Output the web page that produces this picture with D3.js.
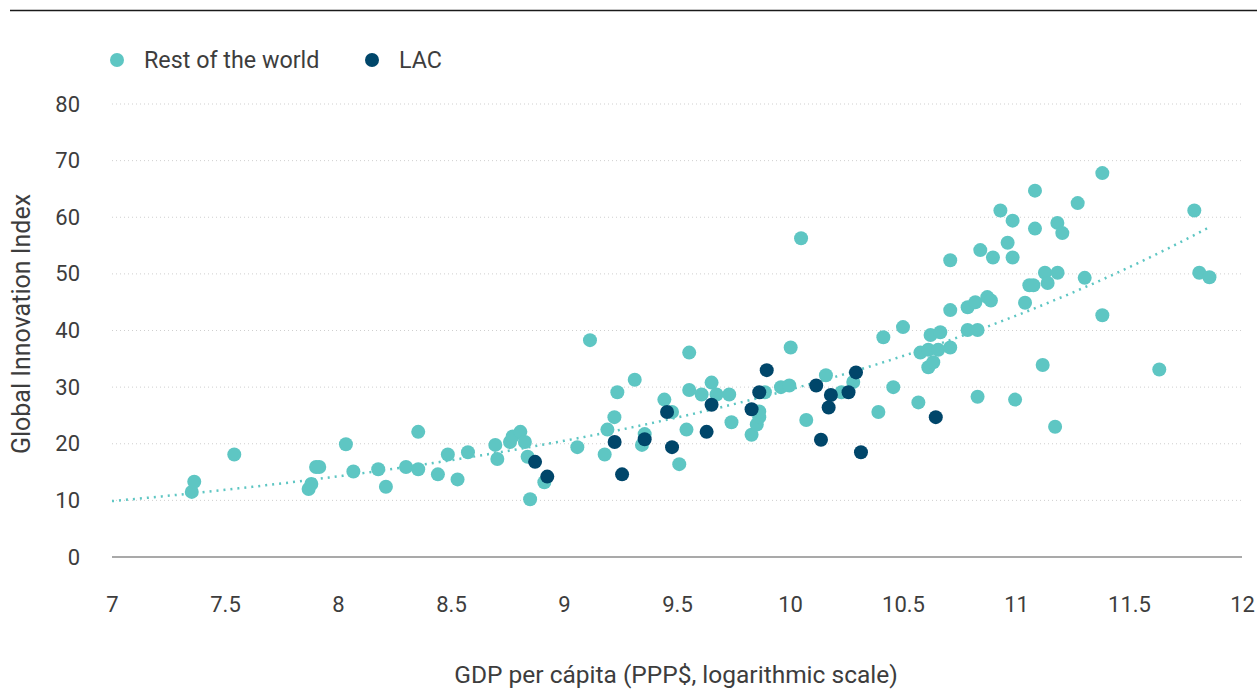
<!DOCTYPE html>
<html><head><meta charset="utf-8">
<script src="https://cdn.jsdelivr.net/npm/d3@7"></script>
<style>
html,body{margin:0;padding:0;background:#fff;}
svg{display:block;font-family:Roboto,"Liberation Sans",sans-serif;}
</style></head>
<body>
<svg id="chart" width="1257" height="690"></svg>
<script>
const seriesNames = ["Rest of the world", "LAC"];
const seriesColors = ["#5ec6c3", "#00466a"];
const xTicks = [7, 7.5, 8, 8.5, 9, 9.5, 10, 10.5, 11, 11.5, 12];
const yTicks = [0, 10, 20, 30, 40, 50, 60, 70, 80];

const restX = [7.353,7.364,7.541,7.870,7.882,7.903,7.917,8.035,8.068,8.178,8.212,8.301,8.355,8.355,8.442,8.486,8.529,8.575,8.696,8.705,8.761,8.773,8.807,8.827,8.839,8.850,8.913,9.059,9.115,9.180,9.192,9.223,9.236,9.313,9.345,9.357,9.444,9.478,9.510,9.542,9.554,9.554,9.609,9.653,9.675,9.731,9.741,9.830,9.853,9.864,9.864,9.889,9.960,9.997,10.003,10.049,10.072,10.159,10.228,10.280,10.391,10.413,10.457,10.500,10.568,10.577,10.612,10.612,10.622,10.634,10.656,10.665,10.709,10.709,10.709,10.786,10.786,10.820,10.830,10.830,10.842,10.873,10.889,10.898,10.931,10.963,10.985,10.985,10.996,11.040,11.059,11.077,11.084,11.084,11.118,11.128,11.140,11.173,11.183,11.184,11.205,11.273,11.304,11.382,11.382,11.634,11.789,11.811,11.856];
const restY = [11.5,13.3,18.1,12.0,12.9,15.9,15.9,19.9,15.1,15.5,12.4,15.9,15.5,22.1,14.6,18.1,13.7,18.5,19.8,17.3,20.3,21.3,22.1,20.3,17.7,10.2,13.2,19.4,38.3,18.1,22.5,24.7,29.1,31.3,19.8,21.7,27.8,25.6,16.4,22.5,36.1,29.5,28.7,30.8,28.7,28.7,23.8,21.6,23.4,24.7,25.7,29.1,30.0,30.3,37.0,56.3,24.2,32.1,29.1,30.9,25.6,38.8,30.0,40.6,27.3,36.1,36.6,33.5,39.2,34.4,36.6,39.7,43.6,37.0,52.4,44.1,40.1,45.0,40.1,28.3,54.2,45.9,45.3,52.9,61.2,55.5,59.4,52.9,27.8,44.9,48.0,48.0,64.7,58.0,33.9,50.2,48.4,23.0,59.0,50.2,57.2,62.5,49.3,67.8,42.7,33.1,61.2,50.2,49.4];

const lacX = [8.872,8.926,9.224,9.257,9.357,9.456,9.478,9.631,9.653,9.830,9.864,9.897,10.116,10.137,10.171,10.181,10.259,10.292,10.314,10.645];
const lacY = [16.8,14.2,20.3,14.6,20.8,25.6,19.4,22.1,26.9,26.1,29.1,33.0,30.3,20.7,26.4,28.6,29.1,32.6,18.5,24.7];

const textColor = "#3d3d3d";
const svg = d3.select("#chart");
const x = d3.scaleLinear().domain([7, 12]).range([112, 1242]);
const y = d3.scaleLinear().domain([0, 80]).range([557, 104]);

// top rule
svg.append("line").attr("x1", 10).attr("x2", 1257).attr("y1", 10.5).attr("y2", 10.5)
  .attr("stroke", "#1a1a1a").attr("stroke-width", 1.5);

// gridlines
svg.append("g").selectAll("line").data(yTicks.filter(d => d > 0)).join("line")
  .attr("x1", x(7)).attr("x2", x(12)).attr("y1", d => y(d)).attr("y2", d => y(d))
  .attr("stroke", "#cfcfcf").attr("stroke-width", 1).attr("stroke-dasharray", "1 3");

// y axis
const yAxis = svg.append("g").attr("transform", `translate(${x(7)},0)`)
  .call(d3.axisLeft(y).tickValues(yTicks).tickSize(0).tickPadding(32));
yAxis.select(".domain").remove();
yAxis.selectAll("text").attr("font-size", 22).attr("fill", textColor).attr("font-family", "Roboto");

// x axis (labels only)
const xAxis = svg.append("g").attr("transform", `translate(0,${y(0)})`)
  .call(d3.axisBottom(x).tickValues(xTicks).tickFormat(d => String(d)).tickSize(0).tickPadding(39));
xAxis.select(".domain").remove();
xAxis.selectAll("text").attr("font-size", 22).attr("fill", textColor).attr("font-family", "Roboto");

// baseline
svg.append("line").attr("x1", x(7)).attr("x2", x(12)).attr("y1", y(0)).attr("y2", y(0))
  .attr("stroke", "#8c8c8c").attr("stroke-width", 1.5);

// exponential trend fit (least squares on ln y)
const allX = restX.concat(lacX), allY = restY.concat(lacY);
const n = allX.length;
const mx = d3.mean(allX), my = d3.mean(allY.map(Math.log));
let sxy = 0, sxx = 0;
for (let i = 0; i < n; i++) { sxy += (allX[i]-mx)*(Math.log(allY[i])-my); sxx += (allX[i]-mx)**2; }
const b = sxy / sxx, a = Math.exp(my - b*mx);
const xMax = d3.max(allX);
const trendXs = d3.range(7, xMax, 0.02).concat([xMax]);
svg.append("path").datum(trendXs)
  .attr("d", d3.line().x(d => x(d)).y(d => y(a*Math.exp(b*d))))
  .attr("fill", "none").attr("stroke", seriesColors[0]).attr("stroke-width", 2.5)
  .attr("stroke-dasharray", "2 5");

// points
const rest = restX.map((v, i) => [v, restY[i]]);
const lac = lacX.map((v, i) => [v, lacY[i]]);
svg.append("g").selectAll("circle").data(rest).join("circle")
  .attr("cx", d => x(d[0])).attr("cy", d => y(d[1])).attr("r", 7).attr("fill", seriesColors[0]);
svg.append("g").selectAll("circle").data(lac).join("circle")
  .attr("cx", d => x(d[0])).attr("cy", d => y(d[1])).attr("r", 7).attr("fill", seriesColors[1]);

// legend
const legX = [117, 372];
seriesNames.forEach((name, i) => {
  svg.append("circle").attr("cx", legX[i]).attr("cy", 60).attr("r", 7).attr("fill", seriesColors[i]);
  svg.append("text").attr("x", legX[i] + 27).attr("y", 60).attr("dy", "0.35em")
    .attr("font-size", 23.3).attr("fill", textColor).text(name);
});

// axis titles
svg.append("text").attr("x", 676).attr("y", 683).attr("text-anchor", "middle")
  .attr("font-size", 24.5).attr("fill", textColor).text("GDP per cápita (PPP$, logarithmic scale)");
svg.append("text").attr("transform", "translate(21,324) rotate(-90)").attr("dy", "0.35em")
  .attr("text-anchor", "middle").attr("font-size", 25).attr("fill", textColor).text("Global Innovation Index");
</script>
</body></html>
